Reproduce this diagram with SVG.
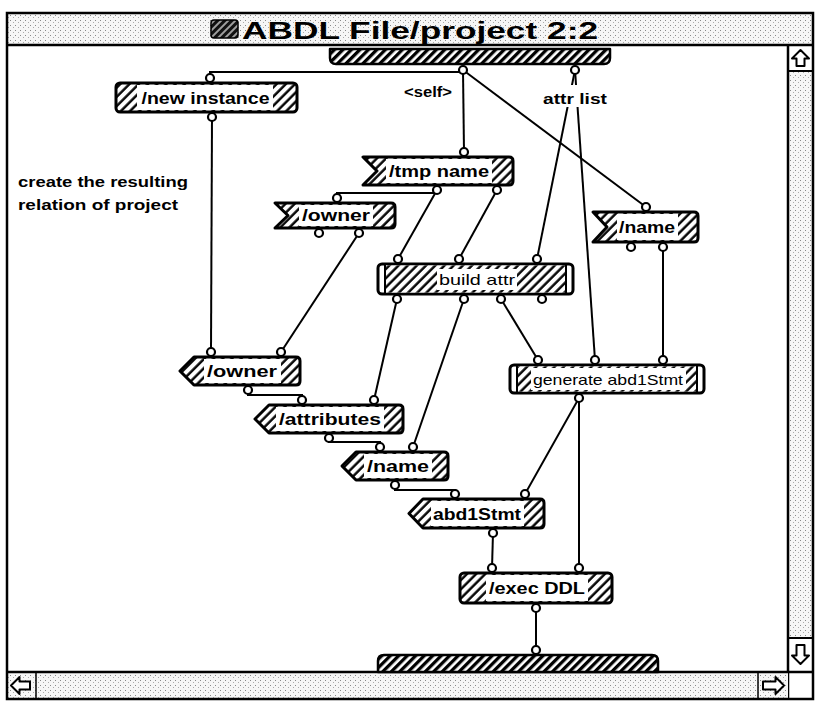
<svg xmlns="http://www.w3.org/2000/svg" width="821" height="709" viewBox="0 0 821 709">
  <defs>
    <pattern id="hatch" patternUnits="userSpaceOnUse" width="6.5" height="6.5" patternTransform="rotate(45)">
      <rect width="6.5" height="6.5" fill="#fff"/>
      <line x1="1.5" y1="0" x2="1.5" y2="6.5" stroke="#000" stroke-width="2.4"/>
    </pattern>
    <pattern id="dark" patternUnits="userSpaceOnUse" width="6" height="6" patternTransform="rotate(45)">
      <rect width="6" height="6" fill="#fff"/>
      <line x1="1.5" y1="0" x2="1.5" y2="6" stroke="#000" stroke-width="3.6"/>
    </pattern>
    <pattern id="stip" patternUnits="userSpaceOnUse" width="5" height="5">
      <rect width="5" height="5" fill="#f6f6f6"/>
      <rect x="0" y="0" width="1" height="1" fill="#888"/>
      <rect x="3" y="2" width="1" height="1" fill="#aaa"/>
    </pattern>
    <pattern id="iconhatch" patternUnits="userSpaceOnUse" width="5" height="5" patternTransform="rotate(45)">
      <rect width="5" height="5" fill="#111"/>
      <line x1="1" y1="0" x2="1" y2="5" stroke="#fff" stroke-width="1.2"/>
    </pattern>
  </defs>
  <style>
    .ol{stroke:#000;stroke-width:3;stroke-linejoin:round;fill:url(#hatch)}
    .bus{stroke:#000;stroke-width:2.5;stroke-linejoin:round;fill:url(#dark)}
    .wire{stroke:#000;stroke-width:2;fill:none}
    .port{fill:#fff;stroke:#000;stroke-width:2.2}
    .bg{fill:#fff}
    .lbl{font-family:"Liberation Sans",Arial,sans-serif;font-weight:bold;font-size:16px;text-anchor:middle;fill:#000}
    .mlbl{font-family:"Liberation Sans",Arial,sans-serif;font-size:15px;text-anchor:middle;fill:#000}
    .note{font-family:"Liberation Sans",Arial,sans-serif;font-weight:bold;font-size:15px;fill:#000}
    .title{font-family:"Liberation Sans",Arial,sans-serif;font-weight:bold;font-size:24px;fill:#000}
    .frame{stroke:#000;stroke-width:2.5;fill:none}
    .arrow{fill:#fff;stroke:#000;stroke-width:2;stroke-linejoin:round}
  </style>

  <!-- window -->
  <rect x="0" y="0" width="821" height="709" fill="#fff"/>
  <rect x="7" y="13" width="806" height="32" fill="url(#stip)"/>
  <rect x="211" y="20" width="27" height="18" rx="3" fill="url(#iconhatch)" stroke="#000" stroke-width="1.5"/>
  <text class="title" x="242" y="39" textLength="356" lengthAdjust="spacingAndGlyphs">ABDL File/project 2:2</text>
  <line x1="7" y1="45" x2="813" y2="45" stroke="#000" stroke-width="2.5"/>

  <!-- vertical scroll bar -->
  <rect x="788" y="71" width="25" height="567" fill="url(#stip)"/>
  <line x1="788" y1="45" x2="788" y2="699" stroke="#000" stroke-width="2.5"/>
  <line x1="788" y1="71" x2="813" y2="71" stroke="#000" stroke-width="2"/>
  <line x1="788" y1="638" x2="813" y2="638" stroke="#000" stroke-width="2"/>
  <polygon class="arrow" points="800.5,50 809,58.5 804.5,58.5 804.5,66 796.5,66 796.5,58.5 792,58.5"/>
  <polygon class="arrow" points="800.5,664 809,655.5 804.5,655.5 804.5,645 796.5,645 796.5,655.5 792,655.5"/>

  <!-- horizontal scroll bar -->
  <rect x="7" y="672" width="781" height="27" fill="url(#stip)"/>
  <line x1="7" y1="672" x2="813" y2="672" stroke="#000" stroke-width="2.5"/>
  <line x1="36" y1="672" x2="36" y2="699" stroke="#000" stroke-width="1.5"/>
  <line x1="758" y1="672" x2="758" y2="699" stroke="#000" stroke-width="1.5"/>
  <polygon class="arrow" points="11,685.5 19.5,677 19.5,681.5 30,681.5 30,689.5 19.5,689.5 19.5,694"/>
  <polygon class="arrow" points="784,685.5 775.5,677 775.5,681.5 763,681.5 763,689.5 775.5,689.5 775.5,694"/>
  <rect class="frame" x="7" y="13" width="806" height="686"/>

  <!-- connectors -->
  <g id="connectors">
    <line class="wire" x1="463" y1="70" x2="464" y2="152"/>
    <line class="wire" x1="463" y1="70" x2="646" y2="207"/>
    <polyline class="wire" points="463,72 210,72 210,75"/>
    <line class="wire" x1="575" y1="70" x2="537" y2="259"/>
    <line class="wire" x1="575" y1="70" x2="595" y2="360"/>
    <line class="wire" x1="437" y1="190" x2="398" y2="259"/>
    <line class="wire" x1="497" y1="190" x2="459" y2="259"/>
    <polyline class="wire" points="437,193 337,193 337,196"/>
    <line class="wire" x1="212" y1="117" x2="211" y2="352"/>
    <line class="wire" x1="359" y1="233" x2="281" y2="352"/>
    <line class="wire" x1="663" y1="247" x2="663" y2="360"/>
    <line class="wire" x1="397" y1="299" x2="374" y2="400"/>
    <line class="wire" x1="464" y1="299" x2="413" y2="447"/>
    <line class="wire" x1="501" y1="299" x2="538" y2="360"/>
    <line class="wire" x1="579" y1="398" x2="525" y2="494"/>
    <line class="wire" x1="579" y1="398" x2="579" y2="568"/>
    <polyline class="wire" points="248,390 248,395 302,395 302,400"/>
    <polyline class="wire" points="329,438 329,442 380,442 380,447"/>
    <polyline class="wire" points="395,485 395,490 455,490 455,494"/>
    <line class="wire" x1="493" y1="533" x2="492" y2="568"/>
    <line class="wire" x1="536" y1="608" x2="536" y2="650"/>
  </g>

  <!-- root labels -->
  <rect class="bg" x="540" y="85" width="70" height="22"/>
  <text class="note" x="575" y="104" text-anchor="middle" textLength="64" lengthAdjust="spacingAndGlyphs">attr list</text>
  <text class="note" x="428" y="97" text-anchor="middle" textLength="48" lengthAdjust="spacingAndGlyphs">&lt;self&gt;</text>
  <text class="note" x="18" y="187" textLength="170" lengthAdjust="spacingAndGlyphs">create the resulting</text>
  <text class="note" x="18" y="210" textLength="160" lengthAdjust="spacingAndGlyphs">relation of project</text>

  <!-- input bar -->
  <g id="input-bar">
    <path class="bus" d="M330,49 H610 V58 Q610,64 604,64 H336 Q330,64 330,58 Z"/>
    <circle class="port" cx="463" cy="70" r="4"/>
    <circle class="port" cx="575" cy="70" r="4"/>
  </g>

  <g id="new-instance">
    <rect class="ol" x="116" y="83" width="181" height="29" rx="4"/>
    <rect class="bg" x="137" y="85" width="136" height="25"/>
    <text class="lbl" x="205.5" y="104" textLength="128" lengthAdjust="spacingAndGlyphs">/new instance</text>
    <circle class="port" cx="210" cy="78" r="4"/>
    <circle class="port" cx="212" cy="117" r="4"/>
  </g>

  <g id="tmp-name">
    <path class="ol" d="M363,157 H509 Q513,157 513,161 V181 Q513,185 509,185 H363 L377,171 Z"/>
    <rect class="bg" x="386" y="159" width="106" height="24"/>
    <text class="lbl" x="439" y="177" textLength="100" lengthAdjust="spacingAndGlyphs">/tmp name</text>
    <circle class="port" cx="464" cy="152" r="4"/>
    <circle class="port" cx="437" cy="190" r="4"/>
    <circle class="port" cx="497" cy="190" r="4"/>
  </g>

  <g id="owner-get">
    <path class="ol" d="M275,203 H391 Q395,203 395,207 V224 Q395,228 391,228 H275 L288,215.5 Z"/>
    <rect class="bg" x="299" y="205" width="74" height="21"/>
    <text class="lbl" x="336" y="221" textLength="68" lengthAdjust="spacingAndGlyphs">/owner</text>
    <circle class="port" cx="337" cy="198" r="4"/>
    <circle class="port" cx="319" cy="233" r="4"/>
    <circle class="port" cx="359" cy="233" r="4"/>
  </g>

  <g id="name-get">
    <path class="ol" d="M593,212 H694 Q698,212 698,216 V238 Q698,242 694,242 H593 L607,227 Z"/>
    <rect class="bg" x="617" y="214" width="61" height="26"/>
    <text class="lbl" x="647" y="233" textLength="56" lengthAdjust="spacingAndGlyphs">/name</text>
    <circle class="port" cx="646" cy="207" r="4"/>
    <circle class="port" cx="631" cy="247" r="4"/>
    <circle class="port" cx="663" cy="247" r="4"/>
  </g>

  <g id="build-attr">
    <rect x="378" y="264" width="195" height="30" rx="4" fill="#fff" stroke="#000" stroke-width="3"/>
    <rect x="385" y="265.5" width="181" height="27" fill="url(#hatch)"/>
    <line x1="385" y1="264" x2="385" y2="294" stroke="#000" stroke-width="2"/>
    <line x1="566" y1="264" x2="566" y2="294" stroke="#000" stroke-width="2"/>
    <rect class="bg" x="437" y="269" width="80" height="21"/>
    <text class="mlbl" x="477" y="285" textLength="76" lengthAdjust="spacingAndGlyphs">build attr</text>
    <circle class="port" cx="398" cy="259" r="4"/>
    <circle class="port" cx="459" cy="259" r="4"/>
    <circle class="port" cx="537" cy="259" r="4"/>
    <circle class="port" cx="397" cy="299" r="4"/>
    <circle class="port" cx="464" cy="299" r="4"/>
    <circle class="port" cx="501" cy="299" r="4"/>
    <circle class="port" cx="542" cy="299" r="4"/>
  </g>

  <g id="generate-abd1Stmt">
    <rect x="510" y="365" width="194" height="28" rx="4" fill="#fff" stroke="#000" stroke-width="3"/>
    <rect x="517" y="366.5" width="180" height="25" fill="url(#hatch)"/>
    <line x1="517" y1="365" x2="517" y2="393" stroke="#000" stroke-width="2"/>
    <line x1="697" y1="365" x2="697" y2="393" stroke="#000" stroke-width="2"/>
    <rect class="bg" x="531" y="368" width="155" height="22"/>
    <text class="mlbl" x="608" y="385" textLength="150" lengthAdjust="spacingAndGlyphs">generate abd1Stmt</text>
    <circle class="port" cx="538" cy="360" r="4"/>
    <circle class="port" cx="595" cy="360" r="4"/>
    <circle class="port" cx="663" cy="360" r="4"/>
    <circle class="port" cx="579" cy="398" r="4"/>
  </g>

  <g id="owner-set">
    <path class="ol" d="M194,357 H296 Q300,357 300,361 V381 Q300,385 296,385 H194 L180,371 Z"/>
    <rect class="bg" x="204" y="359" width="77" height="24"/>
    <text class="lbl" x="242" y="377" textLength="70" lengthAdjust="spacingAndGlyphs">/owner</text>
    <circle class="port" cx="211" cy="352" r="4"/>
    <circle class="port" cx="281" cy="352" r="4"/>
    <circle class="port" cx="248" cy="390" r="4"/>
  </g>

  <g id="attributes-set">
    <path class="ol" d="M269,405 H399 Q403,405 403,409 V429 Q403,433 399,433 H269 L255,419 Z"/>
    <rect class="bg" x="276" y="407" width="108" height="24"/>
    <text class="lbl" x="330" y="425" textLength="102" lengthAdjust="spacingAndGlyphs">/attributes</text>
    <circle class="port" cx="302" cy="400" r="4"/>
    <circle class="port" cx="374" cy="400" r="4"/>
    <circle class="port" cx="329" cy="438" r="4"/>
  </g>

  <g id="name-set">
    <path class="ol" d="M356,452 H444 Q448,452 448,456 V476 Q448,480 444,480 H356 L342,466 Z"/>
    <rect class="bg" x="364" y="454" width="68" height="24"/>
    <text class="lbl" x="398" y="472" textLength="62" lengthAdjust="spacingAndGlyphs">/name</text>
    <circle class="port" cx="380" cy="447" r="4"/>
    <circle class="port" cx="413" cy="447" r="4"/>
    <circle class="port" cx="395" cy="485" r="4"/>
  </g>

  <g id="abd1Stmt-set">
    <path class="ol" d="M423,499 H540 Q544,499 544,503 V524 Q544,528 540,528 H423 L409,513.5 Z"/>
    <rect class="bg" x="431" y="501" width="93" height="25"/>
    <text class="lbl" x="477" y="520" textLength="88" lengthAdjust="spacingAndGlyphs">abd1Stmt</text>
    <circle class="port" cx="455" cy="494" r="4"/>
    <circle class="port" cx="525" cy="494" r="4"/>
    <circle class="port" cx="493" cy="533" r="4"/>
  </g>

  <g id="exec-DDL">
    <rect class="ol" x="460" y="573" width="152" height="30" rx="4"/>
    <rect class="bg" x="486" y="575" width="102" height="26"/>
    <text class="lbl" x="537" y="594" textLength="96" lengthAdjust="spacingAndGlyphs">/exec DDL</text>
    <circle class="port" cx="492" cy="568" r="4"/>
    <circle class="port" cx="579" cy="568" r="4"/>
    <circle class="port" cx="536" cy="608" r="4"/>
  </g>

  <g id="output-bar">
    <path class="bus" d="M378,672 V661 Q378,655 384,655 H652 Q658,655 658,661 V672 Z"/>
    <circle class="port" cx="536" cy="650" r="4"/>
  </g>
</svg>
